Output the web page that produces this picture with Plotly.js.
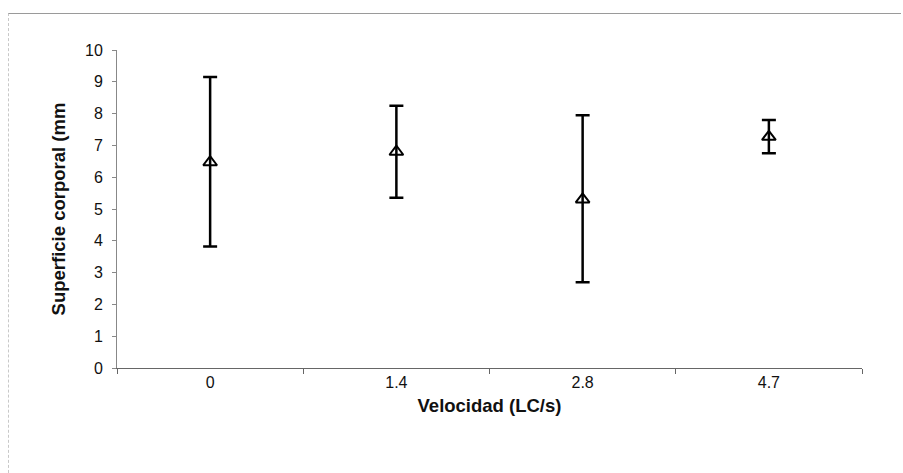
<!DOCTYPE html>
<html>
<head>
<meta charset="utf-8">
<script src="https://cdn.plot.ly/plotly-3.0.1.min.js"></script>
<style>
html,body{margin:0;padding:0;background:#fff;}
#wrap{position:relative;width:903px;height:473px;}
#frame{position:absolute;left:8px;top:13px;width:893px;height:470px;border-top:1px solid #9a9a9a;border-left:1px dashed #c8c8c8;box-sizing:border-box;pointer-events:none;}
#chart{position:absolute;left:0;top:0;width:903px;height:473px;}
</style>
</head>
<body>
<div id="wrap"><div id="chart"></div><div id="frame"></div></div>
<script>
const categories = ["0", "1.4", "2.8", "4.7"];
const means = [6.47, 6.8, 5.3, 7.27];
const errPlus = [2.68, 1.45, 2.65, 0.53];
const errMinus = [2.65, 1.45, 2.6, 0.52];
const yTicks = [0, 1, 2, 3, 4, 5, 6, 7, 8, 9, 10];

const trace = {
  type: "scatter",
  mode: "markers",
  x: categories,
  y: means,
  marker: {symbol: "triangle-up-open", size: 12, color: "#000", line: {color: "#000", width: 2}},
  error_y: {type: "data", symmetric: false, array: errPlus, arrayminus: errMinus, color: "#000", thickness: 2.5, width: 7},
  showlegend: false,
  hoverinfo: "x+y"
};

const tickFont = {family: "Liberation Sans, Arial, sans-serif", size: 16, color: "#111"};
const titleFont = {family: "Liberation Sans, Arial, sans-serif", size: 18.5, color: "#111"};

const layout = {
  width: 903, height: 473,
  margin: {l: 117, r: 41, t: 50, b: 105},
  paper_bgcolor: "#fff", plot_bgcolor: "#fff",
  font: tickFont,
  xaxis: {
    type: "category",
    range: [-0.5, 3.5],
    showgrid: false, zeroline: false,
    showline: true, linecolor: "#666", linewidth: 1,
    ticks: "outside", ticklen: 5, tickcolor: "#666", tickson: "boundaries",
    tickfont: tickFont,
    title: {text: "<b>Velocidad (LC/s)</b>", font: titleFont, standoff: 8}
  },
  yaxis: {
    range: [0, 10],
    tickvals: yTicks,
    showgrid: false, zeroline: false,
    showline: true, linecolor: "#888", linewidth: 1,
    ticks: "outside", ticklen: 4, tickcolor: "#888",
    ticklabelstandoff: 6,
    tickfont: tickFont,
    title: {text: "<b>Superficie corporal (mm</b>", font: titleFont, standoff: 14}
  }
};

Plotly.newPlot("chart", [trace], layout, {displayModeBar: false, staticPlot: true});
</script>
</body>
</html>
